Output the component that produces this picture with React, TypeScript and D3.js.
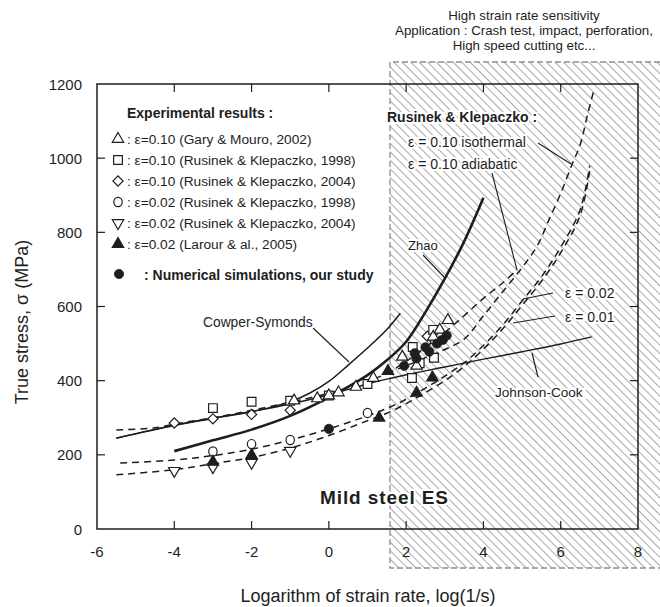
import React from "react";
import * as d3 from "d3";

type P = [number, number];

const W = 660;
const H = 607;
const xTicks = [-6, -4, -2, 0, 2, 4, 6, 8];
const yTicks = [0, 200, 400, 600, 800, 1000, 1200];

// model curves: [log strain rate, true stress MPa]
const johnsonCook: P[] = [[-5.5, 245], [-4, 280], [-3, 299], [-2, 317], [-1, 337], [0, 362], [1, 391], [1.5, 404], [2, 416], [3, 437], [4, 458], [5, 478], [6, 499], [6.8, 518]];
const cowperSymonds: P[] = [[-5.5, 245], [-4, 279], [-3, 298], [-2, 316], [-1.5, 328], [-1, 343], [-0.5, 366], [0, 398], [0.5, 442], [1, 488], [1.5, 538], [1.85, 582]];
const zhao: P[] = [[-4, 210], [-3, 239], [-2, 268], [-1, 305], [0, 355], [1, 415], [1.5, 455], [2, 505], [2.5, 585], [3, 675], [3.5, 775], [4, 893]];
const rkEps010Adiabatic: P[] = [[-5.5, 267], [-4.5, 273], [-4, 283], [-3, 300], [-2, 320], [-1, 342], [0, 366], [1, 398], [1.5, 420], [2, 452], [2.5, 490], [3, 530], [3.5, 575], [4, 622], [4.5, 664], [4.86, 698]];
const rkEps010Isothermal: P[] = [[1.5, 420], [2, 440], [2.5, 462], [3, 484], [3.5, 512], [4, 575], [4.5, 640], [5, 705], [5.4, 765], [5.7, 835], [6, 905], [6.3, 985], [6.5, 1035], [6.7, 1120], [6.85, 1180]];
const rkEps002: P[] = [[-5.4, 178], [-4, 186], [-3, 198], [-2, 215], [-1, 240], [0, 270], [1, 305], [1.5, 325], [2, 350], [2.5, 380], [3, 412], [3.5, 448], [4, 495], [4.5, 550], [5, 615], [5.5, 680], [6, 760], [6.5, 860], [6.75, 980]];
const rkEps001: P[] = [[-5.5, 146], [-4, 160], [-3, 176], [-2, 193], [-1, 218], [0, 252], [1, 292], [1.5, 312], [2, 338], [2.5, 368], [3, 400], [3.5, 438], [4, 485], [4.5, 540], [5, 603], [5.5, 668], [6, 745], [6.5, 845], [6.75, 965]];

// experimental points
const garyMouro2002: P[] = [[-0.9, 346], [-0.3, 352], [0.0, 360], [0.25, 368], [0.7, 383], [1.15, 407], [1.9, 464], [2.27, 440], [2.7, 518], [2.87, 537], [3.08, 563]];
const rk1998Eps010: P[] = [[-3, 326], [-2, 343], [-1, 346], [0, 360], [1, 391], [2.15, 407], [2.17, 491], [2.35, 447], [2.72, 462], [2.7, 537]];
const rk2004Eps010: P[] = [[-4, 286], [-3, 297], [-2, 309], [-1, 320], [2.55, 520], [2.75, 505]];
const rk1998Eps002: P[] = [[-3, 209], [-2, 229], [-1, 240], [1, 313]];
const rk2004Eps002: P[] = [[-4, 157], [-3, 167], [-2, 179], [-1, 211]];
const larour2005: P[] = [[-3, 181], [-2, 199], [1.3, 300], [1.53, 426], [2.27, 367], [2.68, 408]];
const numerical: P[] = [[0, 270], [1.95, 440], [2.22, 474], [2.27, 460], [2.5, 490], [2.6, 478], [2.8, 500], [2.95, 510], [3.05, 522]];

const legendRows = [
  ": ε=0.10 (Gary & Mouro, 2002)",
  ": ε=0.10 (Rusinek & Klepaczko, 1998)",
  ": ε=0.10 (Rusinek & Klepaczko, 2004)",
  ": ε=0.02 (Rusinek & Klepaczko, 1998)",
  ": ε=0.02 (Rusinek & Klepaczko, 2004)",
  ": ε=0.02 (Larour & al., 2005)",
];
const topNote = [
  "High strain rate sensitivity",
  "Application : Crash test, impact, perforation,",
  "High speed cutting etc...",
];

const FONT = "'Liberation Sans', Arial, Helvetica, sans-serif";
const INK = "#1e1e1e";

const x = d3.scaleLinear().domain([-6, 8]).range([97, 638]);
const y = d3.scaleLinear().domain([0, 1200]).range([529, 84]);
const line = d3
  .line<P>()
  .x((d) => x(d[0]))
  .y((d) => y(d[1]))
  .curve(d3.curveCatmullRom.alpha(0.5));

type Kind = "tri" | "square" | "diamond" | "circle" | "dtri" | "ftri" | "dot";

function Marker({ kind, cx, cy }: { kind: Kind; cx: number; cy: number }) {
  const common = { stroke: INK, strokeWidth: 1.2 } as any;
  if (kind === "tri" || kind === "ftri" || kind === "dtri") {
    const p = d3.symbol().type(d3.symbolTriangle).size(56)()!;
    return (
      <path
        d={p}
        transform={`translate(${cx},${cy})${kind === "dtri" ? " rotate(180)" : ""}`}
        fill={kind === "ftri" ? INK : "white"}
        {...common}
      />
    );
  }
  if (kind === "square") {
    const p = d3.symbol().type(d3.symbolSquare).size(76)()!;
    return <path d={p} transform={`translate(${cx},${cy})`} fill="white" {...common} />;
  }
  if (kind === "diamond") {
    const p = d3.symbol().type(d3.symbolSquare).size(52)()!;
    return <path d={p} transform={`translate(${cx},${cy}) rotate(45)`} fill="white" {...common} />;
  }
  if (kind === "circle") {
    return <ellipse cx={cx} cy={cy} rx={4.2} ry={4.6} fill="white" {...common} />;
  }
  return <circle cx={cx} cy={cy} r={4.6} fill={INK} stroke={INK} strokeWidth={0.8} />;
}

const series: { data: P[]; kind: Kind }[] = [
  { data: rk2004Eps010, kind: "diamond" },
  { data: rk1998Eps010, kind: "square" },
  { data: garyMouro2002, kind: "tri" },
  { data: rk1998Eps002, kind: "circle" },
  { data: rk2004Eps002, kind: "dtri" },
  { data: larour2005, kind: "ftri" },
  { data: numerical, kind: "dot" },
];
const legendKinds: Kind[] = ["tri", "square", "diamond", "circle", "dtri", "ftri"];

export default function App() {
  const hx0 = 390, hy0 = 62, hy1 = 568;
  const halo = { stroke: "white", strokeWidth: 4, paintOrder: "stroke" } as any;
  return (
    <svg
      width={W}
      height={H}
      style={{ position: "absolute", left: 0, top: 0, background: "white" }}
      fontFamily={FONT}
    >
      <defs>
        <pattern id="hatch" width={6} height={6} patternUnits="userSpaceOnUse" patternTransform="rotate(-45)">
          <line x1={0} y1={0} x2={0} y2={6} stroke="#7a7a7a" strokeWidth={1.3} />
        </pattern>
      </defs>
      <rect x={0} y={0} width={W} height={H} fill="white" />
      {/* hatched high-rate region */}
      <rect x={hx0} y={hy0} width={W - hx0} height={hy1 - hy0} fill="url(#hatch)" />
      <path
        d={`M${W},${hy0}H${hx0}V${hy1}H${W}`}
        fill="none"
        stroke="#909090"
        strokeWidth={1.3}
        strokeDasharray="6 3"
      />

      {/* top annotation */}
      {topNote.map((t, i) => (
        <text key={t} x={524} y={15 + i * 15} fontSize={13.3} textAnchor="middle" dominantBaseline="central" fill={INK}>
          {t}
        </text>
      ))}

      {/* frame */}
      <rect x={x(-6)} y={y(1200)} width={x(8) - x(-6)} height={y(0) - y(1200)} fill="none" stroke={INK} strokeWidth={1.5} />
      {xTicks.slice(1, -1).map((t) => (
        <g key={"xt" + t} stroke={INK} strokeWidth={1.2}>
          <line x1={x(t)} x2={x(t)} y1={y(0)} y2={y(0) - 8} />
          <line x1={x(t)} x2={x(t)} y1={y(1200)} y2={y(1200) + 8} />
        </g>
      ))}
      {yTicks.slice(1, -1).map((t) => (
        <g key={"yt" + t} stroke={INK} strokeWidth={1.2}>
          <line x1={x(-6)} x2={x(-6) + 8} y1={y(t)} y2={y(t)} />
          <line x1={x(8)} x2={x(8) - 8} y1={y(t)} y2={y(t)} />
        </g>
      ))}
      {xTicks.map((t) => (
        <text key={"xl" + t} x={x(t)} y={551} fontSize={15} textAnchor="middle" dominantBaseline="central" fill={INK}>
          {t}
        </text>
      ))}
      {yTicks.map((t) => (
        <text key={"yl" + t} x={82} y={y(t)} fontSize={15} textAnchor="end" dominantBaseline="central" fill={INK}>
          {t}
        </text>
      ))}
      <text x={368} y={596} fontSize={18} textAnchor="middle" dominantBaseline="central" fill={INK}>
        Logarithm of strain rate, log(1/s)
      </text>
      <text
        transform={`translate(22,${322}) rotate(-90)`}
        fontSize={18}
        textAnchor="middle"
        dominantBaseline="central"
        fill={INK}
      >
        True stress, σ (MPa)
      </text>

      {/* model curves */}
      <g fill="none" stroke={INK}>
        <path d={line(johnsonCook)!} strokeWidth={1.4} />
        <path d={line(cowperSymonds)!} strokeWidth={1.5} />
        <path d={line(zhao)!} strokeWidth={2.6} />
        <g strokeDasharray="7 5" strokeWidth={1.5}>
          <path d={line(rkEps010Adiabatic)!} />
          <path d={line(rkEps010Isothermal)!} />
          <path d={line(rkEps002)!} />
          <path d={line(rkEps001)!} />
        </g>
      </g>

      {/* data points */}
      {series.map((s, si) =>
        s.data.map((d, i) => <Marker key={si + "-" + i} kind={s.kind} cx={x(d[0])} cy={y(d[1])} />)
      )}

      {/* legend */}
      <text x={127} y={113} fontSize={14} fontWeight="bold" dominantBaseline="central" fill={INK}>
        Experimental results :
      </text>
      {legendRows.map((t, i) => (
        <g key={t}>
          <Marker kind={legendKinds[i]} cx={118} cy={139 + i * 21} />
          <text x={127} y={139 + i * 21} fontSize={13.7} dominantBaseline="central" fill={INK}>
            {t}
          </text>
        </g>
      ))}
      <Marker kind="dot" cx={119} cy={274} />
      <text x={144} y={275} fontSize={14} fontWeight="bold" dominantBaseline="central" fill={INK}>
        : Numerical simulations, our study
      </text>

      {/* curve labels and leaders */}
      <g stroke={INK} strokeWidth={1.1}>
        <line x1={538} y1={143} x2={571} y2={164} />
        <line x1={492} y1={173} x2={517} y2={270} />
        <line x1={423} y1={255} x2={445} y2={278} />
        <line x1={553} y1={293} x2={523} y2={299} />
        <line x1={555} y1={316} x2={513} y2={323} />
        <line x1={532} y1={353} x2={538} y2={377} />
        <line x1={313} y1={328} x2={349} y2={362} />
      </g>
      <g fill={INK} dominantBaseline="central">
        <text x={387} y={117} fontSize={14} fontWeight="bold" {...halo}>Rusinek &amp; Klepaczko :</text>
        <text x={408} y={142} fontSize={14} {...halo}>ε = 0.10 isothermal</text>
        <text x={408} y={164} fontSize={14} {...halo}>ε = 0.10 adiabatic</text>
        <text x={408} y={245} fontSize={13} {...halo}>Zhao</text>
        <text x={565} y={293} fontSize={14} {...halo}>ε = 0.02</text>
        <text x={565} y={317} fontSize={14} {...halo}>ε = 0.01</text>
        <text x={495} y={392} fontSize={13.6} {...halo}>Johnson-Cook</text>
        <text x={203} y={322} fontSize={13.8} {...halo}>Cowper-Symonds</text>
        <text x={320} y={497} fontSize={19} fontWeight="bold" letterSpacing={0.9} {...halo}>Mild steel ES</text>
      </g>
    </svg>
  );
}
